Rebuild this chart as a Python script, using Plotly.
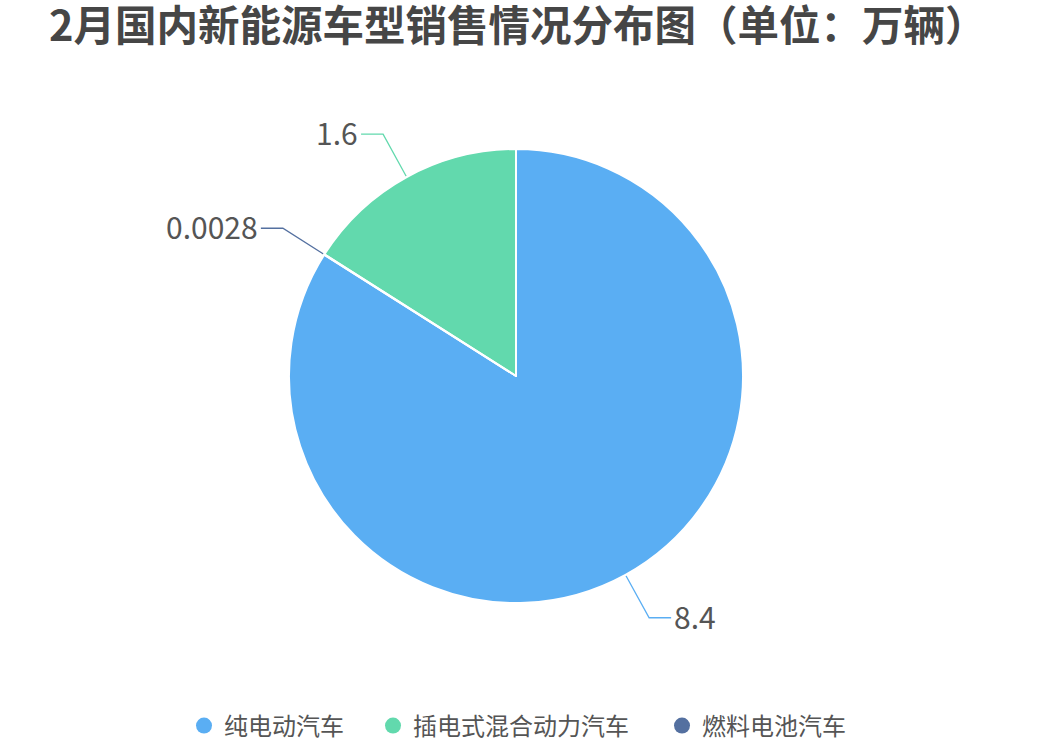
import math
import plotly.graph_objects as go

# 2月国内新能源车型销售情况（单位：万辆）
labels = ['纯电动汽车', '插电式混合动力汽车', '燃料电池汽车']
values = [8.4, 1.6, 0.0028]
value_text = ['8.4', '1.6', '0.0028']
colors = ['#5AAEF3', '#62D9AD', '#5470A0']

W, H = 1042, 742
cx, cy, r = 516, 376, 227   # 饼图中心和半径 (像素)
font = 'Noto Sans CJK SC'

fig = go.Figure()

fig.add_trace(go.Pie(
    labels=labels, values=values, sort=False,
    direction='counterclockwise', rotation=0,
    marker=dict(colors=colors, line=dict(color='white', width=2)),
    textinfo='none', hoverinfo='label+value',
    showlegend=False,
    domain=dict(x=[(cx - r) / W, (cx + r) / W],
                y=[1 - (cy + r) / H, 1 - (cy - r) / H]),
))

# 引导线 + 数值标签 (角度由数据算出)
total = sum(values)
# 逆时针: 第一块占 [0, v0] (顺时针从12点量), 后面依次往回排
ends = [(0, values[0] / total * 360)]
cur = 360.0
for v in values[1:]:
    d = v / total * 360
    ends.append((cur - d, cur))
    cur -= d

for i, (a0, b0) in enumerate(ends):
    mid = math.radians((a0 + b0) / 2)
    sx, sy = math.sin(mid), -math.cos(mid)
    x0, y0 = cx + (r + 1) * sx, cy + (r + 1) * sy
    x1, y1 = cx + (r + 49) * sx, cy + (r + 49) * sy
    side = 1 if sx >= 0 else -1
    x2 = x1 + side * 22
    fig.add_trace(go.Scatter(
        x=[x0, x1, x2], y=[y0, y1, y1], mode='lines',
        line=dict(color=colors[i], width=1.3),
        hoverinfo='skip', showlegend=False, xaxis='x', yaxis='y'))
    fig.add_annotation(x=x2 + side * 1, y=y1, yshift=2, text=value_text[i],
                       showarrow=False, xanchor='left' if side > 0 else 'right',
                       font=dict(size=30, color='#555555', family=font))

# 图例: 每项一个 legend, 圆点
legend_x = [202, 391, 680]   # 圆点中心 (像素)
for k, (lab, c) in enumerate(zip(labels, colors)):
    fig.add_trace(go.Scatter(
        x=[None], y=[None], mode='markers', name=lab,
        legend='legend' if k == 0 else 'legend%d' % (k + 1),
        marker=dict(symbol='circle', size=18, color=c)))

leg = {}
for k, lx in enumerate(legend_x):
    key = 'legend' if k == 0 else 'legend%d' % (k + 1)
    leg[key] = dict(orientation='h', x=(lx - 18) / W, xanchor='left',
                    y=1 - 726 / H, yanchor='middle',
                    font=dict(size=24, color='#555555', family=font),
                    bgcolor='rgba(0,0,0,0)', borderwidth=0)

fig.update_layout(
    width=W, height=H,
    margin=dict(l=0, r=0, t=0, b=0, autoexpand=False),
    paper_bgcolor='white', plot_bgcolor='rgba(0,0,0,0)',
    title=dict(text='<b>2月国内新能源车型销售情况分布图（单位：万辆）</b>',
               x=49 / W, xanchor='left', y=1 - 26 / H, yanchor='middle',
               font=dict(size=41.5, color='#464646', family=font)),
    xaxis=dict(range=[0, W], visible=False, fixedrange=True),
    yaxis=dict(range=[H, 0], visible=False, fixedrange=True),
    font=dict(family=font),
    **leg,
)

# 去掉页面默认的 8px 边距, 让图正好铺满窗口
fig.write_html('out.html', config={'displayModeBar': False},
               post_script="document.body.style.margin = '0';")
